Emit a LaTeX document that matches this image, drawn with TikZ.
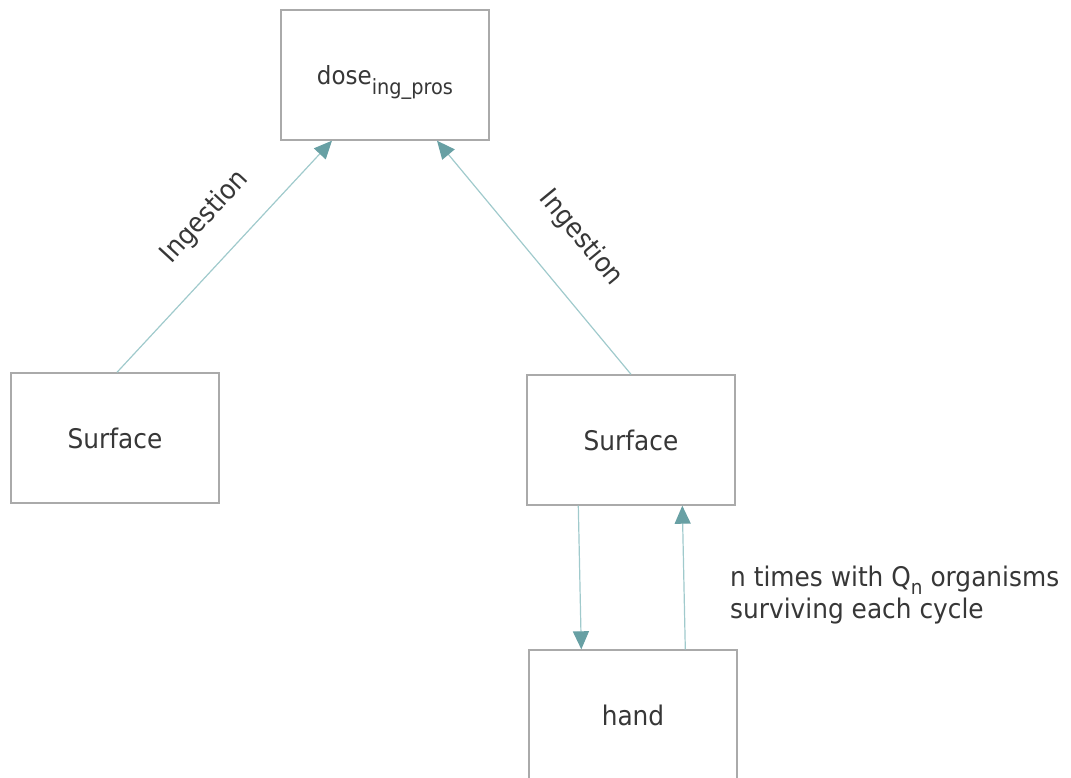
\documentclass[tikz,border=0pt]{standalone}
\usepackage{fontspec}
\setmainfont{DejaVu Sans}[FakeStretch=0.92]
\usetikzlibrary{arrows.meta,calc}
\definecolor{boxgray}{RGB}{170,170,170}
\definecolor{inkgray}{RGB}{55,55,55}
\definecolor{linkteal}{RGB}{160,202,204}
\definecolor{tipteal}{RGB}{104,160,164}
\newcommand{\subtxt}[3]{\raisebox{-#1}{\fontsize{#2}{#2}\selectfont #3}}
\tikzset{
  stage/.style={draw=boxgray, line width=1.4pt, fill=white, minimum width=208pt,
    minimum height=130pt, inner sep=0pt, text=inkgray, font=\fontsize{27}{32}\selectfont},
  flow/.style={draw=linkteal, line width=1.2pt,
    -{Triangle[length=18pt, width=16pt, color=tipteal, fill=tipteal]}},
  lbl/.style={text=inkgray, font=\fontsize{27}{32}\selectfont, inner sep=0pt}
}
\begin{document}
\begin{tikzpicture}[x=1pt, y=-1pt]
\useasboundingbox (0,0) rectangle (1071,777);

\node[stage, font=\fontsize{25}{30}\selectfont, text height=18pt, text depth=0pt]
  (dose) at (385,75) {dose\subtxt{10pt}{21}{ing\_pros}};
\node[stage] (surfL) at (115,438) {Surface};
\node[stage] (surfR) at (631,440) {Surface};
\node[stage] (hand)  at (633,715) {hand};

% ingestion routes up to the dose
\draw[flow] ([xshift=2pt]surfL.north) -- ([xshift=-53pt]dose.south);
\draw[flow] (surfR.north) -- ([xshift=52pt]dose.south);

% repeated surface / hand contact loop
\draw[flow] ([xshift=52pt]surfR.south west) -- ([xshift=53pt]hand.north west);
\draw[flow] ([xshift=157pt]hand.north west) -- ([xshift=156pt]surfR.south west);

\node[lbl, rotate=47.3]  (ingL) at (205,217) {Ingestion};
\node[lbl, rotate=-50.5] (ingR) at (581,238) {Ingestion};

\node[lbl, anchor=base west, align=left] (loop) at (730,618)
  {n times with Q\subtxt{8pt}{20}{n} organisms\\surviving each cycle};
\end{tikzpicture}
\end{document}
